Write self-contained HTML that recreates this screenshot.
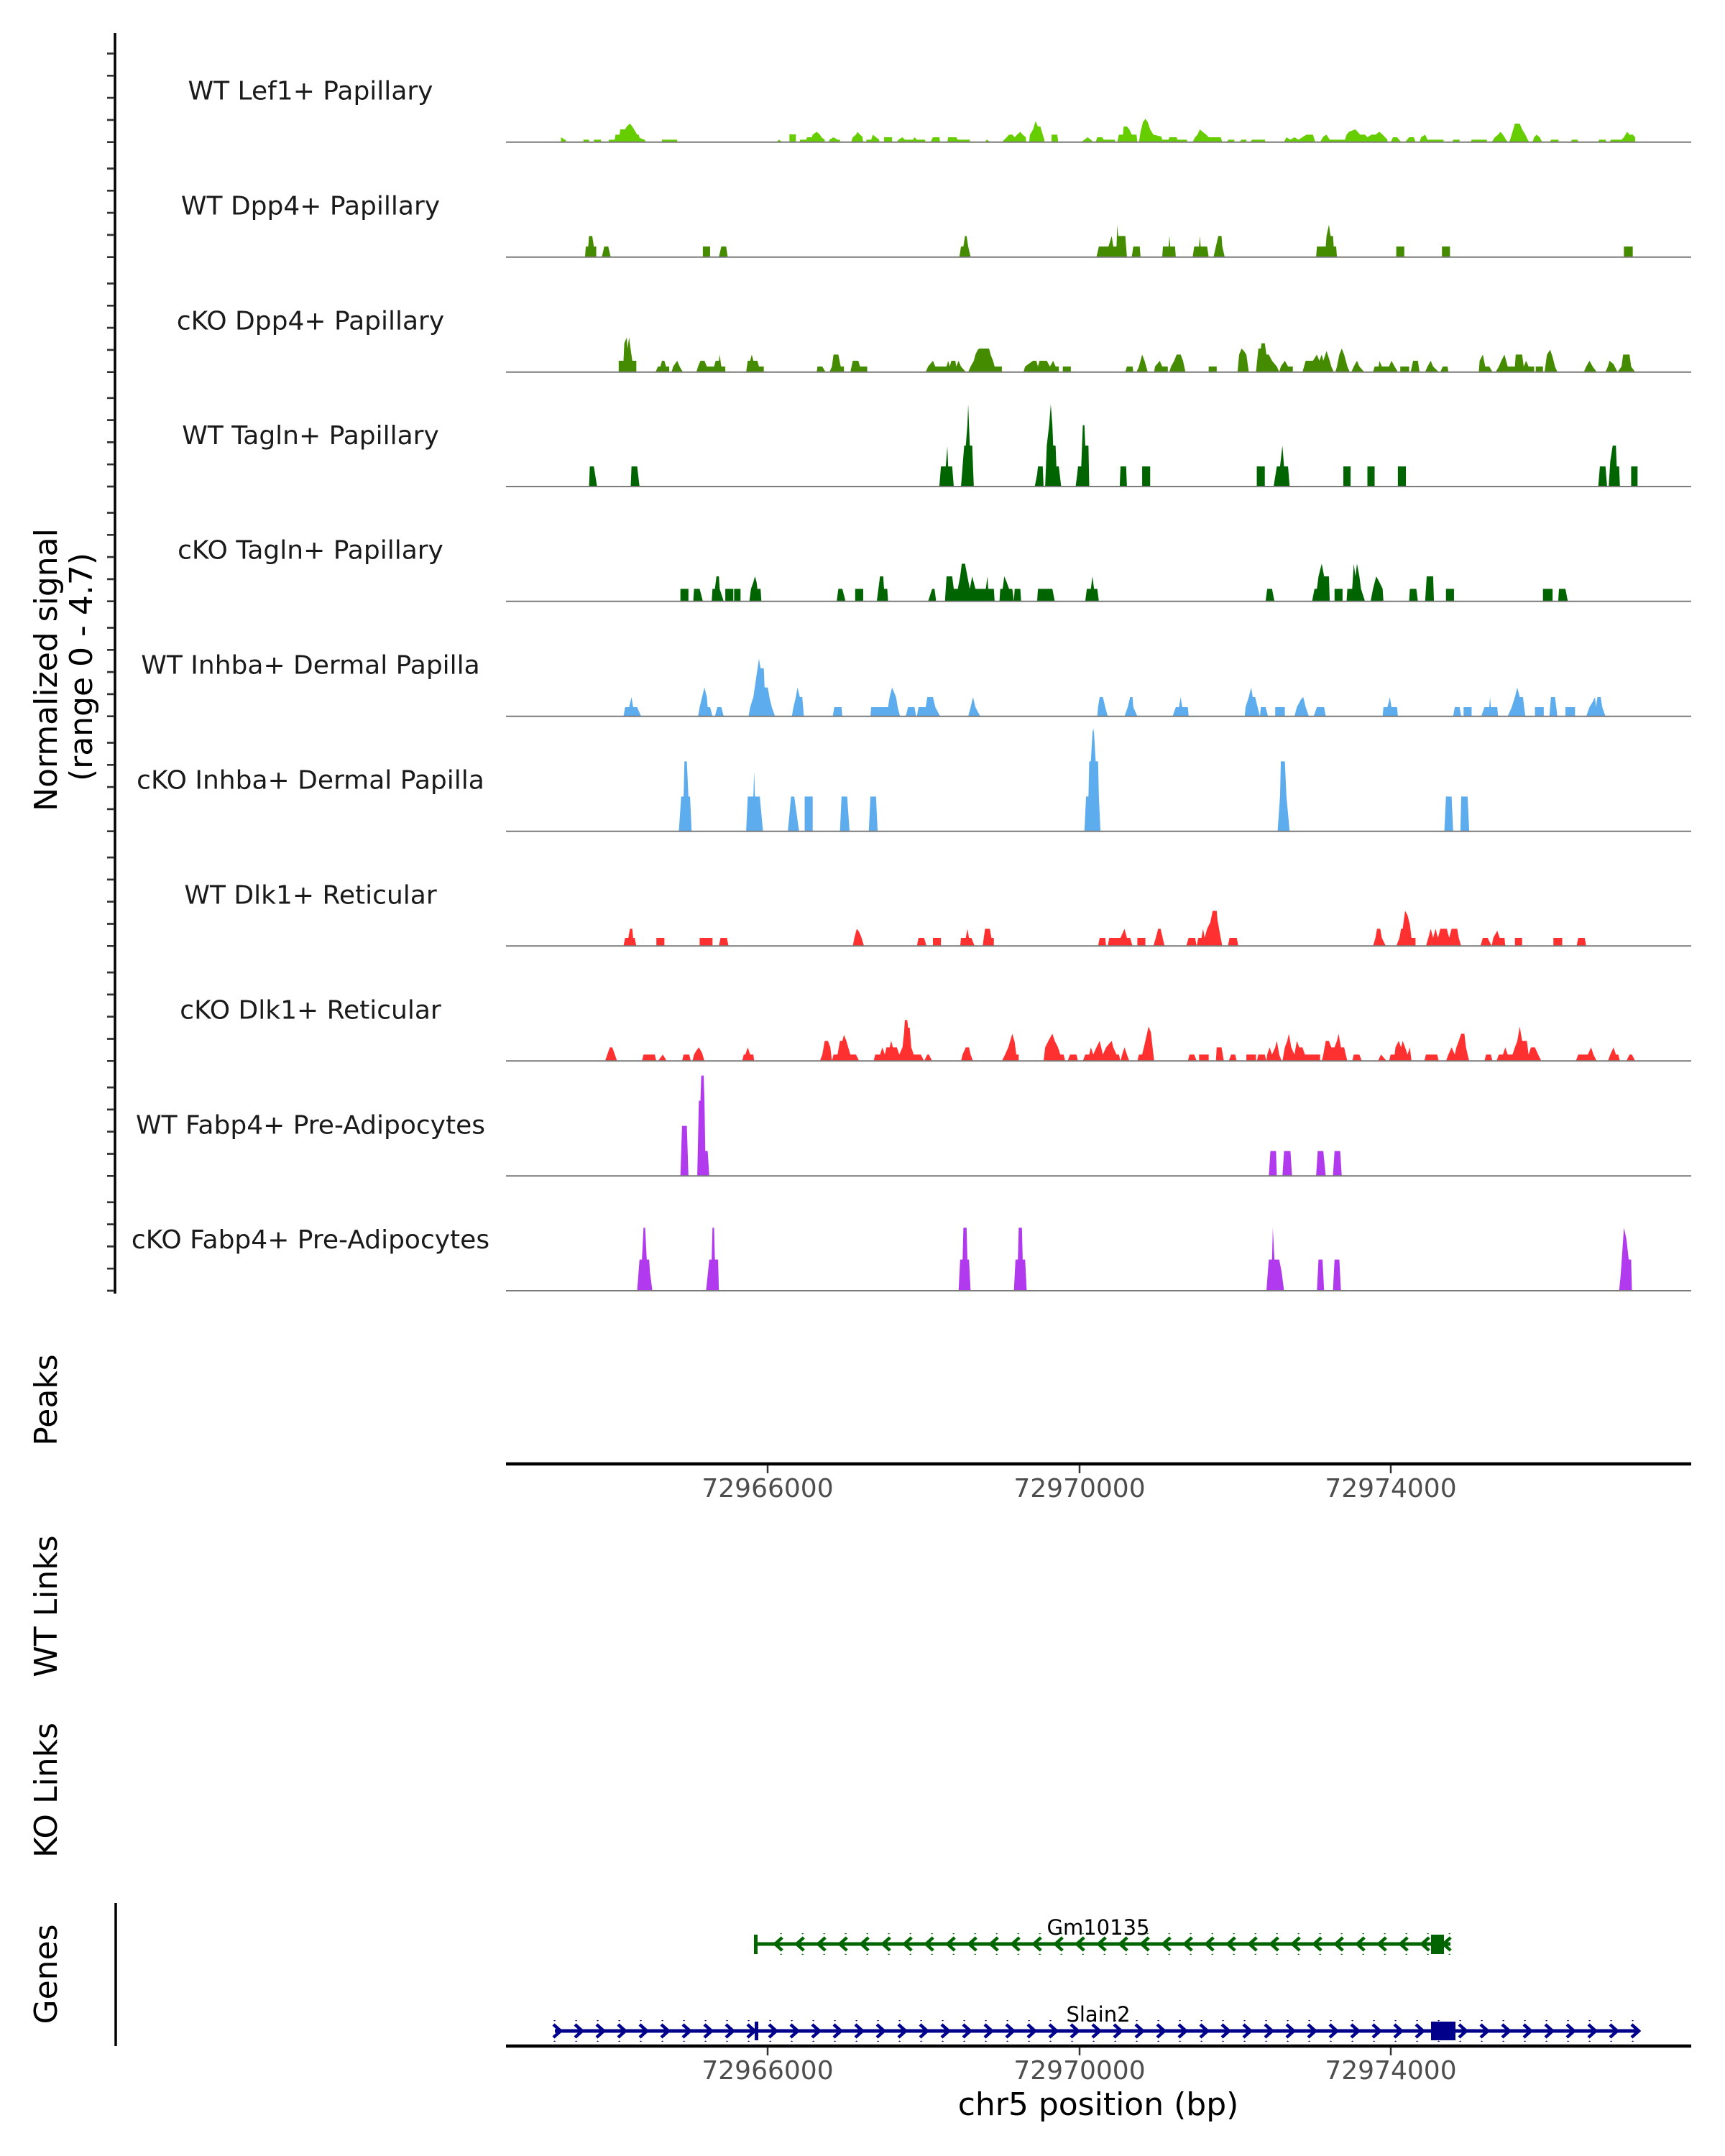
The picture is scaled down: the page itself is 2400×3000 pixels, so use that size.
<!DOCTYPE html>
<html><head><meta charset="utf-8"><style>
html,body{margin:0;padding:0;background:#fff;}
svg{display:block;font-family:"DejaVu Sans","Liberation Sans",sans-serif;}
</style></head><body>
<svg width="2400" height="3000" viewBox="0 0 2400 3000" xmlns="http://www.w3.org/2000/svg">
<defs>
<pattern id="chevL" patternUnits="userSpaceOnUse" x="1068.3" y="2693" width="30" height="24">
<path d="M20,3 L10,12 L20,21" fill="none" stroke="#006400" stroke-width="4.5"/>
</pattern>
<pattern id="chevR" patternUnits="userSpaceOnUse" x="760" y="2814" width="30" height="24">
<path d="M10,3 L20,12 L10,21" fill="none" stroke="#00008B" stroke-width="4.5"/>
</pattern>
</defs>
<rect width="2400" height="3000" fill="#fff"/>

<!-- left axis -->
<line x1="160" y1="46" x2="160" y2="1800" stroke="#000" stroke-width="3.5"/>
<g stroke="#333" stroke-width="2.7">
<path d="M149,197.7H158M149,166.9H158M149,136.1H158M149,105.3H158M149,74.5H158
M149,357.7H158M149,326.9H158M149,296.1H158M149,265.3H158M149,234.5H158
M149,517.7H158M149,486.9H158M149,456.1H158M149,425.3H158M149,394.5H158
M149,677H158M149,646.2H158M149,615.4H158M149,584.6H158M149,553.8H158
M149,836.7H158M149,805.9H158M149,775.1H158M149,744.3H158M149,713.5H158
M149,996.7H158M149,965.9H158M149,935.1H158M149,904.3H158M149,873.5H158
M149,1156.7H158M149,1125.9H158M149,1095.1H158M149,1064.3H158M149,1033.5H158
M149,1316.3H158M149,1285.5H158M149,1254.7H158M149,1223.9H158M149,1193.1H158
M149,1476.3H158M149,1445.5H158M149,1414.7H158M149,1383.9H158M149,1353.1H158
M149,1636.3H158M149,1605.5H158M149,1574.7H158M149,1543.9H158M149,1513.1H158
M149,1796H158M149,1765.2H158M149,1734.4H158M149,1703.6H158M149,1672.8H158"/>
</g>

<!-- titles -->
<g font-size="44" fill="#000" text-anchor="middle">
<text transform="translate(79,932) rotate(-90)">Normalized signal</text>
<text transform="translate(128,928) rotate(-90)">(range 0 - 4.7)</text>
<text transform="translate(79,1948) rotate(-90)">Peaks</text>
<text transform="translate(79,2235) rotate(-90)">WT Links</text>
<text transform="translate(79,2491) rotate(-90)">KO Links</text>
<text transform="translate(79,2747) rotate(-90)">Genes</text>
<text x="1528" y="2943">chr5 position (bp)</text>
</g>

<!-- track labels -->
<g font-size="36" fill="#1a1a1a" text-anchor="middle">
<text x="432" y="138.7">WT Lef1+ Papillary</text>
<text x="432" y="298.7">WT Dpp4+ Papillary</text>
<text x="432" y="458.7">cKO Dpp4+ Papillary</text>
<text x="432" y="618">WT Tagln+ Papillary</text>
<text x="432" y="777.7">cKO Tagln+ Papillary</text>
<text x="432" y="937.7">WT Inhba+ Dermal Papilla</text>
<text x="432" y="1097.7">cKO Inhba+ Dermal Papilla</text>
<text x="432" y="1257.3">WT Dlk1+ Reticular</text>
<text x="432" y="1417.3">cKO Dlk1+ Reticular</text>
<text x="432" y="1577.3">WT Fabp4+ Pre-Adipocytes</text>
<text x="432" y="1737">cKO Fabp4+ Pre-Adipocytes</text>
</g>

<!-- tracks 1-3 -->
<g transform="translate(650,100) scale(1.1153,0.33333)">
<path fill="#66CD00" d="M117,293 117,273 123,285 123,293Z M145,293 145,283 152,283 152,293Z M158,293 158,283 167,283 167,293Z
M176,293 177,283 184,283 185,262 190,262 191,240 197,240 199,228 203,216 206,228 210,250 212,262 214,262 215,275 222,285 222,293Z
M243,293 243,283 262,283 262,293Z M386,293 389,283 393,293Z M402,293 402,261 410,261 410,293Z
M415,293 415,283 423,283 424,273 430,273 431,262 436,250 440,262 442,273 446,283 446,293Z
M451,293 452,283 457,273 462,283 465,283 465,293Z M479,293 481,273 485,262 487,250 490,262 493,270 494,293Z
M498,293 498,283 504,283 506,262 510,273 514,283 514,293Z M520,293 520,273 530,273 530,293Z
M536,293 538,283 543,273 546,283 556,283 558,273 561,283 571,283 572,293Z M578,293 581,273 589,273 590,293Z
M599,293 600,273 610,273 612,283 627,283 627,293Z M646,293 648,283 653,293Z
M667,293 670,283 673,273 676,262 680,262 683,273 686,262 690,250 693,262 697,273 697,293Z
M701,293 702,262 706,240 709,206 712,228 715,228 718,262 720,283 720,293Z M729,293 729,262 736,262 737,283 737,293Z
M766,293 770,283 774,273 778,283 781,293Z M784,293 786,273 792,273 794,283 808,283 808,293Z
M811,293 813,262 818,262 819,228 823,228 826,240 829,262 835,262 836,293Z
M838,293 840,250 843,210 846,196 849,210 852,240 856,262 866,270 867,283 875,283 876,273 885,273 886,283 898,283 898,293Z
M905,293 908,273 911,262 914,240 918,252 922,262 925,273 940,273 942,293Z M947,293 950,283 957,283 957,293Z
M963,293 966,283 972,283 972,293Z M977,293 979,283 995,283 996,293Z
M1019,293 1022,273 1027,283 1032,273 1037,283 1047,262 1055,262 1058,293Z
M1064,293 1068,270 1072,262 1076,283 1095,283 1097,262 1100,250 1108,240 1114,262 1120,262 1123,273 1128,262 1133,262 1138,250 1142,262 1148,283 1148,293Z
M1152,293 1155,273 1160,273 1165,293Z M1170,293 1175,273 1181,273 1183,293Z M1188,293 1190,273 1195,262 1198,283 1218,283 1218,293Z
M1229,293 1230,283 1238,283 1238,293Z M1252,293 1253,283 1272,283 1272,293Z
M1278,293 1282,273 1286,262 1289,250 1292,262 1296,283 1298,293Z M1300,293 1303,262 1307,216 1313,216 1316,240 1320,262 1323,283 1325,293Z
M1329,293 1331,273 1334,262 1338,273 1341,293Z M1351,293 1352,283 1361,283 1362,293Z M1377,293 1378,283 1385,283 1386,293Z
M1411,293 1412,283 1420,283 1421,293Z M1425,293 1427,283 1440,283 1443,273 1447,250 1450,262 1454,262 1457,273 1457,293Z"/>
<path fill="#458B00" d="M147,773 148,729 151,729 152,685 156,685 158,729 161,729 161,773Z M168,773 171,729 176,729 179,773Z
M294,773 294,729 303,729 303,773Z M314,773 317,729 323,729 325,773Z
M614,773 616,729 619,729 621,685 623,685 625,729 628,773Z
M785,773 788,729 800,729 804,685 806,729 810,729 811,638 812,685 821,685 822,729 823,773Z
M829,773 831,729 839,729 840,773Z M867,773 868,729 875,729 876,685 877,729 883,729 884,773Z
M905,773 907,729 913,729 914,685 915,729 923,729 925,773Z M931,773 934,729 937,685 941,685 942,729 945,773Z
M1059,773 1060,729 1071,729 1072,685 1075,638 1077,685 1080,685 1081,729 1084,729 1085,773Z
M1159,773 1159,729 1169,729 1169,773Z M1216,773 1216,729 1226,729 1226,773Z M1443,773 1443,729 1454,729 1454,773Z"/>
<path fill="#458B00" d="M189,1253 189,1206 195,1206 196,1133 199,1110 200,1155 202,1108 204,1160 206,1206 211,1206 211,1253Z
M235,1253 238,1230 241,1230 243,1206 246,1206 248,1230 252,1230 252,1253Z M255,1253 257,1230 262,1206 265,1230 269,1253Z
M286,1253 288,1230 291,1206 296,1206 299,1230 308,1230 310,1206 314,1206 315,1180 317,1230 322,1230 322,1253Z
M348,1253 350,1206 353,1206 355,1180 357,1206 362,1206 364,1230 370,1230 370,1253Z
M436,1253 437,1230 443,1230 447,1253Z M452,1253 455,1230 457,1180 463,1180 466,1230 470,1230 470,1253Z
M478,1253 481,1206 488,1206 490,1230 499,1230 499,1253Z
M572,1253 575,1230 581,1206 584,1230 598,1230 600,1206 602,1230 604,1206 609,1206 610,1230 613,1206 616,1230 622,1253Z
M625,1253 628,1230 632,1206 634,1180 637,1160 639,1155 651,1155 653,1180 656,1206 658,1230 667,1230 667,1253Z
M694,1253 696,1230 700,1220 706,1206 710,1206 712,1230 714,1206 723,1206 727,1230 731,1206 734,1230 738,1230 738,1253Z
M743,1253 743,1230 753,1230 753,1253Z M821,1253 823,1230 830,1230 831,1253Z M835,1253 838,1230 842,1180 845,1206 849,1253Z
M857,1253 858,1230 864,1206 867,1230 874,1230 874,1253Z M876,1253 878,1230 882,1206 885,1180 890,1180 893,1206 896,1253Z
M925,1253 925,1230 935,1230 935,1253Z M961,1253 963,1180 966,1155 969,1165 972,1180 975,1253Z
M984,1253 987,1155 990,1155 991,1133 995,1133 997,1180 1000,1180 1004,1206 1010,1230 1013,1253 1015,1230 1020,1206 1024,1230 1030,1230 1030,1253Z
M1042,1253 1046,1206 1055,1206 1060,1180 1063,1206 1066,1180 1068,1206 1072,1165 1076,1206 1078,1230 1081,1253Z
M1083,1253 1085,1230 1088,1180 1091,1155 1094,1180 1098,1230 1101,1253Z M1103,1253 1106,1230 1110,1206 1113,1230 1119,1253Z
M1130,1253 1132,1230 1137,1230 1138,1206 1141,1230 1150,1230 1153,1206 1157,1230 1161,1253Z
M1164,1253 1164,1230 1175,1230 1175,1253Z M1177,1253 1180,1206 1186,1206 1188,1253Z
M1195,1253 1198,1230 1202,1206 1205,1230 1212,1253Z M1214,1253 1217,1230 1223,1230 1224,1253Z
M1262,1253 1263,1206 1267,1180 1270,1230 1275,1230 1279,1253Z
M1283,1253 1287,1230 1290,1206 1294,1180 1298,1230 1307,1230 1308,1180 1316,1180 1318,1230 1321,1206 1324,1230 1331,1230 1331,1253Z
M1333,1253 1333,1230 1342,1230 1342,1253Z M1344,1253 1347,1180 1351,1160 1354,1190 1357,1230 1360,1253Z
M1393,1253 1396,1230 1400,1206 1404,1230 1409,1253Z
M1420,1253 1423,1230 1425,1206 1430,1220 1435,1253 1440,1230 1442,1180 1450,1180 1452,1230 1457,1253Z"/>
</g>

<!-- tracks 4-6 -->
<g transform="translate(650,540) scale(1.1153,0.33333)">
<path fill="#006400" d="M152,411 153,327 158,327 162,411Z M204,411 205,327 212,327 215,411Z
M589,411 591,327 597,327 599,243 600,327 605,327 607,411Z
M616,411 618,327 620,240 622,240 624,155 625,68 626,155 627,240 630,240 631,327 632,411Z
M708,411 711,360 712,327 718,327 719,411 721,411 722,327 723,240 726,155 728,68 730,155 731,240 734,240 735,327 738,327 741,411Z
M759,411 761,360 762,327 766,327 768,155 770,155 771,240 775,240 776,411Z
M814,411 815,327 822,327 823,411Z M842,411 842,327 852,327 852,411Z M985,411 985,327 995,327 995,411Z
M1006,411 1010,327 1014,327 1017,240 1019,327 1024,327 1026,411Z
M1093,411 1093,327 1102,327 1102,411Z M1123,411 1123,327 1132,327 1132,411Z M1161,411 1161,327 1171,327 1171,411Z
M1411,411 1413,327 1420,327 1422,411Z M1424,411 1426,305 1429,240 1433,240 1434,327 1437,327 1438,411Z
M1452,411 1452,327 1460,327 1460,411Z"/>
<path fill="#006400" d="M266,890 266,838 276,838 276,890Z M282,890 283,838 290,838 294,890Z
M305,890 306,838 309,838 311,786 314,786 315,838 320,890Z M322,890 322,838 332,838 332,890Z M333,890 333,838 341,838 341,890Z
M352,890 354,838 357,810 359,786 361,810 362,838 366,838 367,890Z M461,890 463,838 468,838 472,890Z
M484,890 484,838 494,838 494,890Z M511,890 513,838 515,786 519,786 520,838 524,838 525,890Z M575,890 580,838 583,838 585,890Z
M596,890 598,786 605,786 607,838 612,838 615,786 617,733 621,733 624,786 627,838 630,786 634,838 647,838 649,786 650,838 657,838 658,890Z
M664,890 665,838 668,838 670,786 673,810 676,838 680,838 682,890 683,838 690,838 691,890Z
M711,890 712,838 730,838 733,890Z M771,890 773,838 778,838 780,786 782,838 786,838 788,890Z
M996,890 998,838 1004,838 1007,890Z M1054,890 1057,838 1060,838 1062,786 1066,733 1069,786 1075,786 1076,890Z
M1082,890 1082,838 1092,838 1092,890Z M1097,890 1098,838 1104,838 1106,733 1108,786 1110,733 1113,786 1115,838 1120,890Z
M1127,890 1130,838 1134,786 1138,810 1142,838 1143,890Z M1175,890 1176,838 1184,838 1186,890Z
M1195,890 1197,786 1205,786 1206,890Z M1221,890 1221,838 1231,838 1231,890Z M1342,890 1342,838 1354,838 1354,890Z
M1361,890 1362,838 1370,838 1373,890Z"/>
<path fill="#5CACEE" d="M195,1370 197,1332 202,1332 205,1290 207,1332 212,1332 217,1370Z
M288,1370 290,1332 293,1290 296,1250 299,1290 300,1332 303,1332 306,1370Z M309,1370 312,1332 317,1332 320,1370Z
M351,1370 353,1332 357,1290 360,1220 364,1130 366,1170 370,1170 371,1250 375,1250 377,1290 380,1332 384,1370Z
M405,1370 407,1332 410,1290 412,1250 415,1290 418,1290 420,1370Z M456,1370 458,1332 467,1332 468,1370Z
M503,1370 504,1332 525,1332 527,1290 530,1250 535,1290 537,1332 540,1370Z M547,1370 550,1332 558,1332 560,1370Z
M561,1370 563,1332 572,1332 574,1290 581,1290 584,1332 590,1370Z M625,1370 628,1332 631,1290 634,1332 640,1370Z
M786,1370 787,1332 789,1290 793,1290 796,1332 799,1370Z M820,1370 824,1332 827,1290 830,1290 831,1332 836,1370Z
M880,1370 884,1332 888,1332 890,1290 892,1332 899,1332 900,1370Z
M970,1370 971,1332 975,1290 978,1250 980,1290 983,1290 986,1332 989,1370 990,1332 996,1332 999,1370Z
M1008,1370 1008,1332 1020,1332 1020,1370Z M1032,1370 1035,1332 1040,1300 1043,1290 1046,1332 1050,1370Z
M1056,1370 1060,1332 1069,1332 1071,1370Z M1142,1370 1143,1332 1148,1332 1151,1290 1153,1332 1160,1332 1161,1370Z
M1230,1370 1232,1332 1238,1332 1240,1370Z M1243,1370 1243,1332 1253,1332 1253,1370Z
M1265,1370 1269,1332 1275,1332 1276,1290 1277,1332 1285,1332 1286,1370Z
M1298,1370 1303,1332 1307,1290 1310,1250 1313,1290 1317,1290 1320,1370Z M1332,1370 1332,1332 1343,1332 1343,1370Z
M1350,1370 1352,1290 1357,1290 1360,1370Z M1370,1370 1370,1332 1382,1332 1382,1370Z
M1396,1370 1400,1332 1404,1310 1407,1290 1408,1332 1410,1290 1414,1290 1416,1332 1420,1370Z"/>
</g>

<!-- tracks 7-9 -->
<g transform="translate(650,1020) scale(1.1153,0.33333)">
<path fill="#5CACEE" d="M264,410 267,265 270,265 271,118 274,118 276,265 278,265 280,410Z
M348,410 350,265 357,265 358,160 359,265 365,265 369,410Z M400,410 402,340 404,265 408,265 414,410Z
M421,410 421,265 431,265 431,410Z M465,410 467,265 474,265 477,410Z M501,410 503,265 510,265 512,410Z
M770,410 772,265 775,265 776,118 778,118 780,0 781,-20 782,0 784,118 787,118 788,265 790,410Z
M1011,410 1014,265 1015,118 1020,118 1022,265 1026,410Z M1219,410 1221,265 1228,265 1230,410Z M1239,410 1240,265 1248,265 1250,410Z"/>
<path fill="#FF3030" d="M195,889 197,855 201,855 203,817 206,817 207,855 209,855 211,889Z M236,889 236,855 246,855 246,889Z
M290,889 290,855 306,855 306,889Z M314,889 316,855 324,855 326,889Z M481,889 483,855 486,817 489,830 492,855 495,889Z
M561,889 563,855 570,855 573,889Z M581,889 581,855 591,855 591,889Z M615,889 616,855 622,855 624,817 626,855 629,855 633,889Z
M643,889 646,817 652,817 654,855 657,855 657,889Z
M787,889 789,855 796,855 797,889 799,889 801,855 815,855 820,817 823,855 827,855 830,889Z M836,889 836,855 846,855 846,889Z
M856,889 859,855 862,817 865,817 870,889Z
M897,889 900,855 908,855 910,889 912,855 916,855 918,817 920,855 923,817 927,790 930,742 935,742 936,780 940,855 942,889 949,889 951,855 960,855 962,889Z
M1130,889 1133,855 1135,817 1139,817 1141,855 1146,889Z M1159,889 1163,855 1165,817 1167,817 1170,742 1173,760 1176,800 1178,855 1183,855 1183,889Z
M1196,889 1199,855 1202,817 1205,855 1208,817 1211,855 1214,817 1222,817 1225,855 1228,817 1235,817 1237,855 1240,889Z
M1264,889 1267,855 1273,855 1278,889 1280,855 1285,825 1288,855 1294,855 1295,889Z M1307,889 1307,855 1316,855 1316,889Z
M1355,889 1355,855 1366,855 1366,889Z M1384,889 1386,855 1394,855 1396,889Z"/>
<path fill="#FF3030" d="M172,1369 175,1340 178,1312 181,1312 184,1340 187,1369Z M218,1369 220,1342 234,1342 236,1369Z
M238,1369 244,1342 249,1369Z M268,1369 270,1342 277,1342 279,1369Z M281,1369 283,1342 286,1325 289,1312 293,1335 296,1369Z
M343,1369 345,1342 347,1342 350,1312 353,1342 357,1342 358,1369Z
M440,1369 443,1342 446,1285 450,1285 453,1312 455,1369 457,1342 462,1342 465,1285 468,1285 470,1260 473,1285 478,1342 485,1342 489,1369Z
M507,1369 509,1342 515,1342 518,1312 521,1342 523,1312 527,1312 529,1285 531,1312 536,1312 539,1342 543,1312 545,1250 546,1198 549,1198 550,1230 552,1230 554,1312 557,1342 566,1342 570,1369 574,1342 576,1342 580,1369Z
M616,1369 618,1342 622,1312 626,1312 628,1342 631,1369Z M667,1369 671,1342 675,1312 680,1255 683,1290 685,1342 688,1342 688,1369Z
M719,1369 721,1312 725,1285 730,1255 733,1285 737,1312 740,1342 744,1342 746,1369Z M749,1369 752,1342 760,1342 762,1369Z
M768,1369 771,1342 776,1342 778,1312 781,1342 785,1312 789,1285 793,1342 797,1312 800,1300 804,1285 806,1312 810,1342 813,1342 815,1369 817,1342 820,1312 823,1342 826,1369Z
M836,1369 838,1342 842,1342 845,1300 850,1225 853,1250 855,1312 857,1369Z
M899,1369 901,1342 907,1342 910,1369Z M913,1369 913,1342 925,1342 925,1369Z M934,1369 935,1312 941,1312 944,1369Z
M950,1369 953,1342 958,1342 960,1369Z M972,1369 972,1342 984,1342 984,1369Z
M985,1369 987,1342 995,1342 997,1369 998,1342 1001,1312 1004,1342 1008,1312 1010,1285 1013,1342 1016,1369Z
M1017,1369 1020,1312 1023,1285 1025,1255 1028,1312 1032,1342 1035,1285 1038,1312 1042,1312 1045,1342 1064,1342 1064,1369Z
M1066,1369 1068,1342 1071,1285 1075,1285 1078,1312 1082,1312 1085,1285 1087,1255 1090,1312 1094,1312 1096,1342 1098,1369Z
M1104,1369 1106,1342 1113,1342 1116,1369Z M1136,1369 1140,1342 1147,1369Z
M1150,1369 1152,1342 1157,1342 1158,1312 1162,1285 1165,1312 1167,1285 1170,1312 1173,1342 1176,1312 1178,1369Z
M1194,1369 1196,1342 1210,1342 1212,1369Z
M1221,1369 1224,1342 1228,1312 1232,1342 1234,1312 1237,1285 1240,1255 1244,1255 1246,1312 1248,1342 1250,1369Z
M1269,1369 1271,1342 1277,1342 1279,1369Z
M1284,1369 1287,1342 1292,1342 1295,1312 1298,1342 1304,1342 1307,1312 1310,1285 1313,1225 1316,1285 1322,1285 1324,1342 1327,1312 1332,1312 1336,1342 1340,1369Z
M1383,1369 1386,1342 1398,1342 1402,1312 1405,1342 1409,1369Z M1423,1369 1426,1342 1430,1312 1433,1342 1436,1342 1438,1369Z
M1446,1369 1450,1342 1453,1342 1457,1369Z"/>
</g>

<!-- tracks 10-11 -->
<g transform="translate(650,1490) scale(1.1153,0.33333)">
<path fill="#B23AEE" d="M266,439 268,230 274,230 276,439Z M287,439 289,125 291,125 292,20 295,20 296,125 297,335 300,335 302,439Z
M1000,439 1002,335 1009,335 1010,439Z M1017,439 1019,335 1027,335 1029,439Z M1059,439 1061,335 1068,335 1071,439Z M1080,439 1082,335 1089,335 1091,439Z"/>
<path fill="#B23AEE" d="M212,918 215,788 218,788 220,655 222,655 224,788 227,788 228,840 231,918Z
M298,918 302,788 305,788 306,655 308,655 309,788 313,788 314,918Z M613,918 615,788 618,788 619,655 623,655 624,788 626,788 628,918Z
M682,918 684,788 687,788 688,655 692,655 693,788 696,788 698,918Z M997,918 1000,788 1004,788 1005,655 1007,788 1013,788 1016,840 1019,918Z
M1060,918 1062,788 1067,788 1069,918Z M1080,918 1082,788 1088,788 1090,918Z
M1437,918 1439,850 1443,655 1446,700 1449,788 1452,788 1453,918Z"/>
</g>

<!-- baselines -->
<g stroke="#7a7a7a" stroke-width="2">
<path d="M704,197.7H2353M704,357.7H2353M704,517.7H2353M704,677H2353M704,836.7H2353M704,996.7H2353M704,1156.7H2353M704,1316.3H2353M704,1476.3H2353M704,1636.3H2353M704,1796H2353"/>
</g>

<!-- peaks x axis -->
<line x1="704" y1="2037" x2="2353" y2="2037" stroke="#000" stroke-width="4.5"/>
<g stroke="#333" stroke-width="2.5"><path d="M1068,2039V2050M1502,2039V2050M1935,2039V2050"/></g>
<g font-size="36" fill="#4d4d4d" text-anchor="middle">
<text x="1068" y="2083">72966000</text><text x="1502" y="2083">72970000</text><text x="1935" y="2083">72974000</text>
</g>

<!-- genes -->
<line x1="161" y1="2648" x2="161" y2="2847" stroke="#000" stroke-width="3.5"/>
<line x1="1050" y1="2705" x2="2018" y2="2705" stroke="#006400" stroke-width="5"/>
<rect x="1068" y="2690" width="952" height="30" fill="url(#chevL)"/>
<rect x="1049" y="2692" width="5" height="27" fill="#006400"/>
<rect x="1991" y="2692" width="18" height="27" fill="#006400"/>
<line x1="772" y1="2826" x2="2281" y2="2826" stroke="#00008B" stroke-width="5"/>
<rect x="768" y="2811" width="1515" height="30" fill="url(#chevR)"/>
<rect x="1050" y="2813" width="5" height="26" fill="#00008B"/>
<rect x="1991" y="2813" width="34" height="26" fill="#00008B"/>
<g font-size="29" fill="#000" text-anchor="middle">
<text x="1528" y="2692">Gm10135</text>
<text x="1528" y="2813">Slain2</text>
</g>

<line x1="704" y1="2847" x2="2353" y2="2847" stroke="#000" stroke-width="4.5"/>
<g stroke="#333" stroke-width="2.5"><path d="M1068,2849V2860M1502,2849V2860M1935,2849V2860"/></g>
<g font-size="36" fill="#4d4d4d" text-anchor="middle">
<text x="1068" y="2893">72966000</text><text x="1502" y="2893">72970000</text><text x="1935" y="2893">72974000</text>
</g>
</svg>
</body></html>
